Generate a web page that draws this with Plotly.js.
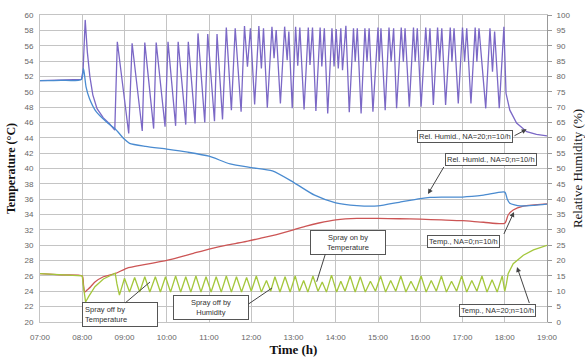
<!DOCTYPE html>
<html>
<head>
<meta charset="utf-8">
<script src="https://cdn.plot.ly/plotly-3.0.1.min.js"></script>
<style>
html,body{margin:0;padding:0;background:#fff;}
#chart{width:585px;height:360px;}
</style>
</head>
<body>
<div id="chart"></div>
<script>
// ---- data (time in decimal hours) ----
var hourTicks = [7, 8, 9, 10, 11, 12, 13, 14, 15, 16, 17, 18, 19];
var hourLabels = ["07:00","08:00","09:00","10:00","11:00","12:00","13:00","14:00","15:00","16:00","17:00","18:00","19:00"];

// Rel. Humid., NA=20 (purple, %)
var rh20Time = [7.0,7.5,7.98,8.02,8.07,8.12,8.18,8.25,8.35,8.5,8.65,8.77,8.83,9.10,9.18,9.42,9.48,9.69,9.75,9.96,10.03,10.21,10.27,10.45,10.51,10.67,10.74,10.90,10.97,11.13,11.19,11.32,11.41,11.53,11.62,11.76,11.84,11.91,11.98,12.08,12.18,12.24,12.29,12.38,12.49,12.54,12.59,12.69,12.79,12.85,12.89,12.97,13.05,13.1,13.15,13.25,13.35,13.39,13.45,13.53,13.63,13.67,13.73,13.81,13.91,13.96,14.01,14.06,14.12,14.16,14.24,14.32,14.42,14.46,14.51,14.60,14.69,14.74,14.79,14.88,15.0,15.03,15.07,15.17,15.26,15.31,15.37,15.44,15.55,15.60,15.64,15.74,15.84,15.88,15.93,16.02,16.13,16.18,16.23,16.31,16.41,16.46,16.51,16.60,16.71,16.75,16.80,16.90,17.0,17.05,17.10,17.20,17.30,17.34,17.39,17.55,17.65,17.71,17.76,17.87,17.98,18.03,18.12,18.28,18.52,18.75,19.0];
var rh20Val = [78.6,78.7,79.0,82,98.4,88,80,74,69.5,66.5,64.5,62.5,91.3,61.4,90.8,62.2,91,63,91,63.6,91.3,63.9,91.3,64.3,91.3,64.7,94,65,93.8,65.4,93.8,66,95.9,69,95.7,68.5,96.4,83.2,95.7,70.9,96.4,82.6,95.7,69.8,96.2,85.9,95.1,71.2,96.2,85.3,94.6,69.6,96.2,83.5,95.9,69.2,95.9,83.7,95.9,68.7,95.9,83.2,95.7,67.9,95.7,83.2,95.4,82.6,95.7,82,96.5,68.3,95.7,84.8,95.7,67.9,95.7,84.8,95.7,68.5,95.9,84.8,95.7,69,95.9,84.8,95.7,69.6,95.9,84.8,95.7,70.1,95.9,84.8,95.7,70.1,95.9,84.8,95.7,70.7,95.9,84.8,95.7,70.7,95.9,84.8,95.7,71.2,95.9,84.8,95.7,71.2,95.9,84.8,95.7,69.6,95.7,81.5,94.6,69.6,96.2,74.5,69,64.8,62,61.1,60.6];

// Rel. Humid., NA=0 (blue, %)
var rh0Time = [7.0,7.5,7.98,8.03,8.09,8.17,8.33,8.57,8.77,9.0,9.12,9.5,10.0,10.5,11.0,11.5,12.0,12.5,13.0,13.5,14.0,14.5,15.0,15.5,16.0,16.23,16.5,17.0,17.5,18.0,18.06,18.12,18.36,18.7,19.0];
var rh0Val = [78.6,78.7,79.0,82.6,76.6,72.8,68.5,65.2,63,59.5,58.2,57.2,56.3,55.3,54.0,51.5,50.3,49.2,45.5,41.3,38.8,37.9,37.8,39.0,40.2,40.6,40.7,40.7,41.3,42.3,40.0,38.7,37.8,38.0,38.4];

// Temp., NA=0 (red, °C)
var t0Time = [7.0,7.5,8.0,8.03,8.06,8.12,8.2,8.3,8.5,8.8,9.05,9.5,9.84,10.2,10.63,11.0,11.42,11.8,12.21,12.6,13.0,13.3,13.6,14.0,14.5,15.0,15.5,16.0,16.5,17.0,17.5,18.0,18.08,18.2,18.44,18.7,19.0];
var t0Val = [26.3,26.15,26.0,24.8,23.9,24.2,24.6,25.2,25.9,26.35,27.0,27.5,27.86,28.3,28.95,29.5,30.03,30.4,30.9,31.4,32.0,32.5,32.9,33.3,33.5,33.5,33.45,33.4,33.3,33.2,33.0,32.86,33.94,34.6,35.1,35.25,35.4];

// Temp., NA=20 (green, °C)
var t20Time = [7.0,7.5,8.0,8.03,8.08,8.15,8.3,8.5,8.7,8.78,8.82,8.88,9.0,9.12,9.24,9.36,9.48,9.6,9.73,9.85,9.97,10.09,10.21,10.33,10.45,10.57,10.69,10.81,10.93,11.05,11.17,11.29,11.41,11.53,11.65,11.77,11.89,12.0,12.12,12.24,12.36,12.46,12.56,12.68,12.8,12.92,13.04,13.14,13.24,13.34,13.46,13.58,13.68,13.78,13.9,14.02,14.12,14.22,14.34,14.46,14.58,14.7,14.82,14.94,15.06,15.18,15.3,15.42,15.54,15.66,15.78,15.9,16.02,16.14,16.26,16.38,16.5,16.62,16.74,16.86,16.98,17.1,17.22,17.34,17.46,17.58,17.7,17.82,17.94,18.0,18.04,18.08,18.2,18.44,18.68,19.0];
var t20Val = [26.3,26.15,26.0,24.5,22.6,23.3,24.6,25.6,26.2,26.35,25.0,23.5,25.7,23.9,25.8,23.9,25.9,23.9,25.9,23.9,25.9,23.9,26.0,23.9,25.9,23.9,26.0,23.9,25.9,23.9,25.9,23.9,26.0,23.9,25.9,23.9,25.8,24.0,26.0,23.9,25.4,24.0,25.9,23.9,25.9,23.9,26.0,24.0,25.4,23.9,26.0,24.0,25.2,23.9,26.1,23.9,25.3,24.0,26.0,23.9,25.9,23.9,25.3,24.0,26.0,23.9,25.4,24.0,26.0,23.9,25.3,24.0,26.0,23.9,25.4,24.0,26.0,23.9,25.3,24.0,26.0,23.9,25.4,24.0,26.0,23.9,25.5,23.9,26.0,24.0,25.0,26.3,27.6,28.7,29.4,30.0];

// labelled boxes: [text, x, y(°C)]
var boxTexts = ["Rel. Humid., NA=20;n=10/h","Rel. Humid., NA=0;n=10/h","Temp., NA=0;n=10/h","Temp., NA=20;n=10/h","Spray on by<br>Temperature","Spray off by<br>Temperature","Spray off by<br>Humidity"];
var boxX = [17.06,17.675,17.024,17.817,14.278,8.893,11.036];
var boxY = [44.23,41.11,30.49,21.56,30.36,21.04,21.95];
var boxW = [null,null,null,null,70,70,70];
var boxAlign = ["center","center","center","center","center","left","center"];
// pointers: tail (x,y) -> head (x,y), with/without arrowhead
var ptrTailX = [18.195,16.586,17.959,18.598,13.769,8.988,11.899];
var ptrTailY = [44.17,40.46,31.21,22.21,29.12,22.35,22.21];
var ptrHeadX = [18.519,16.183,18.219,18.29,13.549,9.604,12.491];
var ptrHeadY = [45.11,36.68,34.33,27.17,25.25,25.21,24.43];
var ptrHasHead = [true,true,true,true,false,false,false];

var traces = [
  {x: rh20Time, y: rh20Val, yaxis: 'y2', mode: 'lines', line: {color: '#7b68c6', width: 1.3}, name: 'Rel. Humid., NA=20'},
  {x: rh0Time, y: rh0Val, yaxis: 'y2', mode: 'lines', line: {color: '#4a8bd0', width: 1.3, shape: 'spline', smoothing: 0.6}, name: 'Rel. Humid., NA=0'},
  {x: t0Time, y: t0Val, yaxis: 'y', mode: 'lines', line: {color: '#cc5555', width: 1.3, shape: 'spline', smoothing: 0.6}, name: 'Temp., NA=0'},
  {x: t20Time, y: t20Val, yaxis: 'y', mode: 'lines', line: {color: '#a4c73c', width: 1.3}, name: 'Temp., NA=20'}
];

var annFont = {family: 'Liberation Sans, Arial, sans-serif', size: 7.5, color: '#333'};
var annotations = [];
for (var i = 0; i < boxTexts.length; i++) {
  var a = {x: boxX[i], y: boxY[i], xref: 'x', yref: 'y', text: boxTexts[i], showarrow: false,
    font: annFont, bgcolor: '#ffffff', bordercolor: '#555', borderwidth: 1, borderpad: 1, align: boxAlign[i]};
  if (boxW[i]) { a.width = boxW[i]; a.borderpad = 2; }
  annotations.push(a);
}
for (var j = 0; j < ptrTailX.length; j++) {
  annotations.push({x: ptrHeadX[j], y: ptrHeadY[j], xref: 'x', yref: 'y', ax: ptrTailX[j], ay: ptrTailY[j],
    axref: 'x', ayref: 'y', text: ' ', showarrow: true, arrowhead: ptrHasHead[j] ? 2 : 0, arrowsize: 1, arrowwidth: 1,
    arrowcolor: '#444', font: {size: 1}});
}

var tickFont = {family: 'Liberation Sans, Arial, sans-serif', size: 8, color: '#666'};
var titleFontSerif = {family: 'Liberation Serif, Times New Roman, serif', size: 13, color: '#111'};

var layout = {
  width: 585, height: 360,
  margin: {l: 40, r: 38, t: 15, b: 38},
  paper_bgcolor: '#fff', plot_bgcolor: '#fff',
  showlegend: false,
  xaxis: {
    range: [7, 19], tickvals: hourTicks, ticktext: hourLabels, tickfont: tickFont,
    showgrid: true, gridcolor: '#c4c4c4', gridwidth: 1, zeroline: false,
    showline: true, linecolor: '#c4c4c4', mirror: true, ticks: '', ticklabelstandoff: 7,
    title: {text: '<b>Time (h)</b>', font: titleFontSerif, standoff: 4}
  },
  yaxis: {
    range: [20, 60], dtick: 2, tick0: 20, tickfont: tickFont,
    showgrid: true, gridcolor: '#c4c4c4', gridwidth: 1, zeroline: false,
    showline: true, linecolor: '#c4c4c4', ticks: '', ticklabelstandoff: 4,
    title: {text: '<b>Temperature (°C)</b>', font: {family: 'Liberation Serif, Times New Roman, serif', size: 12, color: '#111'}, standoff: 6}
  },
  yaxis2: {
    range: [0, 100], dtick: 5, tick0: 0, overlaying: 'y', side: 'right', tickfont: tickFont,
    showgrid: false, zeroline: false, showline: true, linecolor: '#999',
    ticks: 'outside', ticklen: 4, tickcolor: '#999', ticklabelstandoff: 3,
    title: {text: 'Relative Humidity (%)', font: titleFontSerif, standoff: 4}
  },
  annotations: annotations
};

Plotly.newPlot('chart', traces, layout, {staticPlot: true, displayModeBar: false});
</script>
</body>
</html>
